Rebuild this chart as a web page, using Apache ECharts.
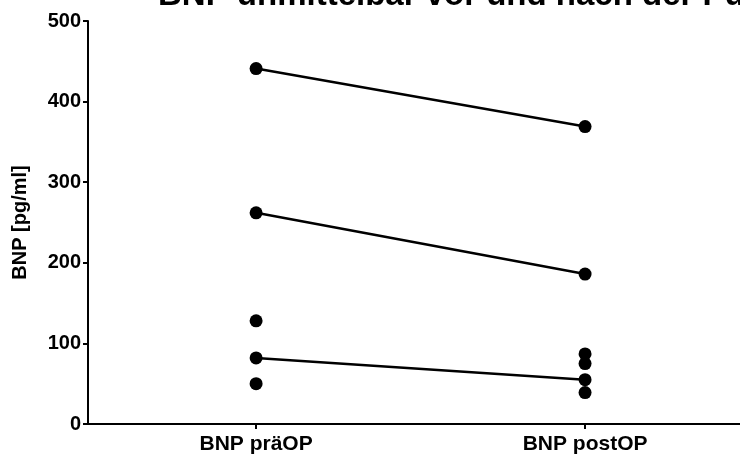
<!DOCTYPE html>
<html>
<head>
<meta charset="utf-8">
<script src="https://cdn.jsdelivr.net/npm/echarts@6/dist/echarts.min.js"></script>
<style>
  html, body { margin: 0; padding: 0; background: #fff; }
  #chart { width: 740px; height: 459px; }
</style>
</head>
<body>
<div id="chart"></div>
<script>
// Groups on the x axis (0 = before, 1 = after)
const categories = ['BNP präOP', 'BNP postOP'];
// Individual BNP measurements [pg/ml]
const preValues = [441, 262, 128, 82, 50];
const postValues = [369, 186, 87, 75, 55, 39];
// Patients with both measurements, connected by a line
const pairedPre = [441, 262, 82];
const pairedPost = [369, 186, 55];
// y axis ticks
const yTicks = [0, 100, 200, 300, 400, 500];

const FONT = 'Liberation Sans, Arial, Helvetica, sans-serif';

const pairSeries = pairedPre.map((v, i) => ({
  type: 'line',
  data: [[0, v], [1, pairedPost[i]]],
  symbol: 'none',
  lineStyle: { color: '#000', width: 2.5 },
  z: 2,
  silent: true
}));

const pointSeries = {
  type: 'scatter',
  data: preValues.map(v => [0, v]).concat(postValues.map(v => [1, v])),
  symbol: 'circle',
  symbolSize: 13,
  itemStyle: { color: '#000', opacity: 1 },
  z: 3
};

const chart = echarts.init(document.getElementById('chart'), null, { renderer: 'canvas' });
chart.setOption({
  animation: false,
  backgroundColor: '#fff',
  grid: { left: 88, right: 0, top: 21, bottom: 35, containLabel: false, outerBoundsMode: 'none' },
  graphic: [{
    type: 'text',
    left: 158,
    top: -21,
    style: {
      text: 'BNP unmittelbar vor und nach der Punktion',
      font: 'bold 33px ' + FONT,
      fill: '#000'
    }
  }],
  xAxis: {
    type: 'value',
    min: -0.511,
    max: 1.471,
    splitLine: { show: false },
    axisLine: { show: true, onZero: false, lineStyle: { color: '#000', width: 2 } },
    axisTick: { show: true, customValues: [0, 1], length: 5, lineStyle: { color: '#000', width: 2 } },
    axisLabel: {
      customValues: [0, 1],
      formatter: v => categories[Math.round(v)],
      color: '#000',
      fontFamily: FONT,
      fontWeight: 'bold',
      fontSize: 21,
      margin: 10
    }
  },
  yAxis: {
    type: 'value',
    min: yTicks[0],
    max: yTicks[yTicks.length - 1],
    interval: yTicks[1] - yTicks[0],
    name: 'BNP [pg/ml]',
    nameLocation: 'middle',
    nameGap: 58,
    nameTextStyle: { color: '#000', fontFamily: FONT, fontWeight: 'bold', fontSize: 20 },
    splitLine: { show: false },
    axisLine: { show: true, onZero: false, lineStyle: { color: '#000', width: 2 } },
    axisTick: { show: true, length: 5, lineStyle: { color: '#000', width: 2 } },
    axisLabel: {
      color: '#000',
      fontFamily: FONT,
      fontWeight: 'bold',
      fontSize: 20,
      margin: 7
    }
  },
  series: pairSeries.concat([pointSeries])
});
</script>
</body>
</html>
